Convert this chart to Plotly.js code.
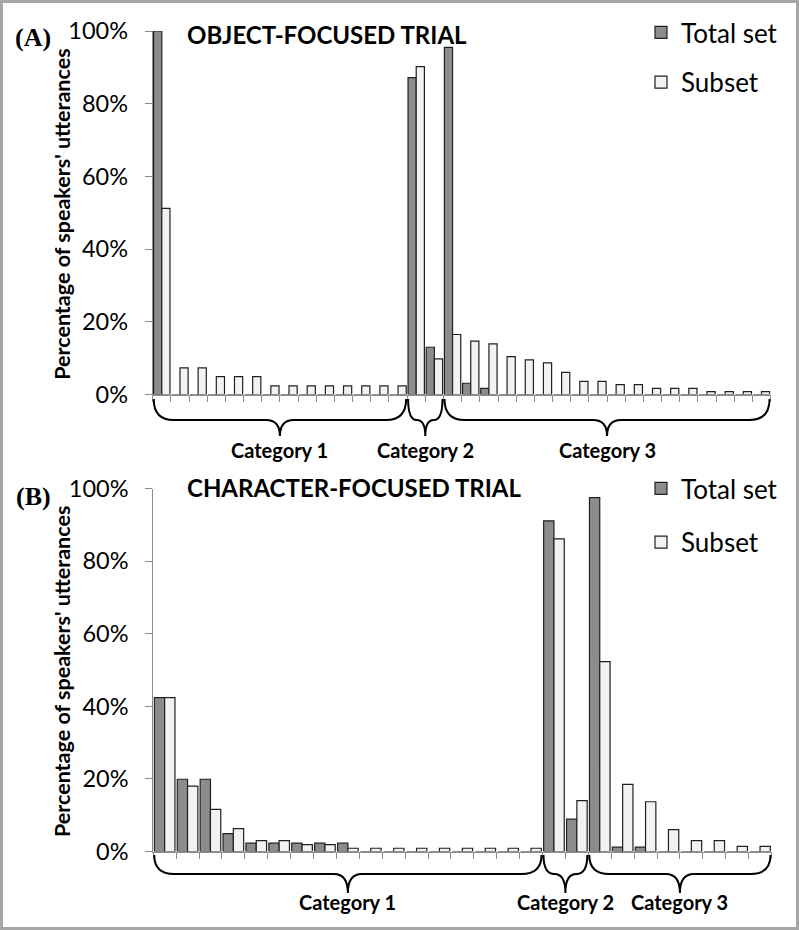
<!DOCTYPE html>
<html>
<head>
<meta charset="utf-8">
<script src="https://cdn.plot.ly/plotly-3.0.1.min.js"></script>
<style>html,body{margin:0;padding:0;background:#fff;}#chart{width:799px;height:930px;}</style>
</head>
<body>
<div id="chart"></div>
<script>
// ---------- DATA ----------
const seriesNames = ["Total set", "Subset"];

// Panel A: object-focused trial (34 expression types)
const objTotal = [100, 0, 0, 0, 0, 0, 0, 0, 0, 0, 0, 0, 0, 0,
                  87.2, 13.0,
                  95.5, 3.1, 1.7, 0, 0, 0, 0, 0, 0, 0, 0, 0, 0, 0, 0, 0, 0, 0];
const objSubset = [51.2, 7.3, 7.3, 4.9, 4.9, 4.9, 2.4, 2.4, 2.4, 2.4, 2.4, 2.4, 2.4, 2.4,
                   90.2, 9.8,
                   16.5, 14.7, 13.9, 10.4, 9.5, 8.7, 6.1, 3.6, 3.6, 2.7, 2.7, 1.7, 1.7, 1.7, 0.8, 0.8, 0.8, 0.8];

// Panel B: character-focused trial (27 expression types)
const charTotal = [42.4, 19.9, 19.9, 4.9, 2.3, 2.3, 2.3, 2.3, 2.3, 0, 0, 0, 0, 0, 0, 0, 0,
                   91.1, 8.9,
                   97.5, 1.2, 1.2, 0, 0, 0, 0, 0];
const charSubset = [42.4, 18.0, 11.6, 6.3, 3.0, 3.0, 1.9, 1.9, 0.9, 0.9, 0.9, 0.9, 0.9, 0.9, 0.9, 0.9, 0.9,
                    86.1, 14.0,
                    52.3, 18.5, 13.7, 6.0, 3.0, 3.0, 1.4, 1.4];

// Category groups (first and last item index of each bracket)
const groupLabels = ["Category 1", "Category 2", "Category 3"];
const objGroupStart = [0, 14, 16];
const objGroupEnd = [13, 15, 33];
const charGroupStart = [0, 17, 19];
const charGroupEnd = [16, 18, 26];

const yTickVals = [0, 20, 40, 60, 80, 100];
const yTickText = ["0%", "20%", "40%", "60%", "80%", "100%"];
const panelTitles = ["OBJECT-FOCUSED TRIAL", "CHARACTER-FOCUSED TRIAL"];
const panelTags = ["(A)", "(B)"];
const yTitle = "Percentage of speakers' utterances";

// ---------- LAYOUT HELPERS ----------
const W = 799, H = 930;
const FONT = "Lato, 'Open Sans', sans-serif";
const AX = "#8c8c8c";
const darkFill = "#8c8c8c", lightFill = "#f2f2f2", barLine = "#202020";

const panels = [
  {total: objTotal, subset: objSubset, gs: objGroupStart, ge: objGroupEnd,
   xPix: [152.7, 770.6], yPix: [394.5, 31], braceTop: 399, braceMid: 420, braceTip: 436, labelY: 450,
   titleY: 35, tagY: 37, legendTop: 9, legendGap: 13},
  {total: charTotal, subset: charSubset, gs: charGroupStart, ge: charGroupEnd,
   xPix: [153.2, 771.5], yPix: [851.5, 488.5], braceTop: 855, braceMid: 874, braceTip: 893, labelY: 902,
   titleY: 487, tagY: 496, legendTop: 465, legendGap: 17}
];

const fx = p => p / W;
const fy = p => 1 - p / H;

const traces = [];
const layout = {
  width: W, height: H,
  margin: {l: 0, r: 0, t: 0, b: 0},
  paper_bgcolor: "#fff", plot_bgcolor: "rgba(0,0,0,0)",
  barmode: "group", bargap: 0.1, bargroupgap: 0,
  font: {family: FONT, color: "#000"},
  showlegend: true,
  shapes: [], annotations: []
};

panels.forEach((P, k) => {
  const n = P.total.length;
  const xs = P.total.map((_, i) => i);
  const xa = k === 0 ? "x" : "x2", ya = k === 0 ? "y" : "y2";
  const xKey = k === 0 ? "xaxis" : "xaxis2", yKey = k === 0 ? "yaxis" : "yaxis2";
  const legKey = k === 0 ? "legend" : "legend2";

  traces.push({
    type: "bar", name: seriesNames[0], x: xs, y: P.total, xaxis: xa, yaxis: ya,
    marker: {color: darkFill, line: {color: barLine, width: 1.2}},
    legend: legKey, legendgroup: "g" + k + "a", hoverinfo: "skip"
  });
  traces.push({
    type: "bar", name: seriesNames[1], x: xs, y: P.subset, xaxis: xa, yaxis: ya,
    marker: {color: lightFill, line: {color: barLine, width: 1.2}},
    legend: legKey, legendgroup: "g" + k + "b", hoverinfo: "skip"
  });

  const r0 = -0.5, r1 = n - 0.5;
  const boundaries = [];
  for (let i = 0; i <= n; i++) boundaries.push(i - 0.5);

  layout[xKey] = {
    domain: [fx(P.xPix[0]), fx(P.xPix[1])], range: [r0, r1], anchor: ya,
    showline: true, linecolor: AX, linewidth: 1,
    ticks: "outside", ticklen: 6, tickcolor: AX, tickwidth: 1,
    tickmode: "array", tickvals: boundaries, showticklabels: false,
    showgrid: false, zeroline: false, fixedrange: true
  };
  layout[yKey] = {
    domain: [fy(P.yPix[0]), fy(P.yPix[1])], range: [0, 100], anchor: xa,
    showline: true, linecolor: AX, linewidth: 1,
    ticks: "outside", ticklen: 7, tickcolor: AX, tickwidth: 1,
    tickmode: "array", tickvals: yTickVals, ticktext: yTickText,
    ticklabelstandoff: 12,
    tickfont: {family: FONT, size: 23.5, color: "#000"},
    showgrid: false, zeroline: false, fixedrange: true
  };

  // y-axis title, centred on the axis
  layout.annotations.push({xref: "paper", yref: "paper", x: fx(62),
    y: fy((P.yPix[0] + P.yPix[1]) / 2 + 2), xanchor: "center", yanchor: "middle",
    textangle: -90, showarrow: false, text: yTitle,
    font: {family: FONT, size: 21.5, weight: "bold", color: "#000"}});

  layout[legKey] = {
    x: fx(641), xanchor: "left", y: fy(P.legendTop), yanchor: "top",
    font: {family: FONT, size: 26, color: "#000"},
    bgcolor: "rgba(0,0,0,0)", borderwidth: 0,
    traceorder: "grouped", tracegroupgap: P.legendGap
  };

  // pixel mapping of category positions via the axis domain / range
  const xp = v => P.xPix[0] + (v - r0) / (r1 - r0) * (P.xPix[1] - P.xPix[0]);

  P.gs.forEach((s, g) => {
    const x0 = xp(s - 0.5) + 1, x1 = xp(P.ge[g] + 0.5) - 1;
    const w = x1 - x0, xm = (x0 + x1) / 2;
    const r = Math.min(20, w / 4), r2 = Math.min(14, w / 4);
    const t = P.braceTop, m = P.braceMid, b = P.braceTip;
    const pt = (a, c) => fx(a).toFixed(5) + "," + fy(c).toFixed(5);
    const path = "M" + pt(x0, t) +
      " Q" + pt(x0, m) + " " + pt(x0 + r, m) +
      " L" + pt(xm - r2, m) +
      " Q" + pt(xm, m) + " " + pt(xm, b) +
      " Q" + pt(xm, m) + " " + pt(xm + r2, m) +
      " L" + pt(x1 - r, m) +
      " Q" + pt(x1, m) + " " + pt(x1, t);
    layout.shapes.push({type: "path", xref: "paper", yref: "paper", path: path,
      line: {color: "#000", width: 2}});
    layout.annotations.push({xref: "paper", yref: "paper", x: fx(xm), y: fy(P.labelY),
      xanchor: "center", yanchor: "middle", showarrow: false, text: groupLabels[g],
      font: {family: FONT, size: 20, weight: "bold", color: "#000"}});
  });

  layout.annotations.push({xref: "paper", yref: "paper", x: fx(185), y: fy(P.titleY),
    xanchor: "left", yanchor: "middle", showarrow: false, text: panelTitles[k],
    font: {family: FONT, size: 24, weight: "bold", color: "#000"}});
  layout.annotations.push({xref: "paper", yref: "paper", x: fx(33), y: fy(P.tagY),
    xanchor: "center", yanchor: "middle", showarrow: false, text: panelTags[k],
    font: {family: "'Liberation Serif', 'Times New Roman', serif", size: 26, weight: "bold", color: "#000"}});
});

// outer frame
layout.shapes.push({type: "rect", xref: "paper", yref: "paper",
  x0: fx(1.5), x1: fx(W - 1.5), y0: fy(H - 1.5), y1: fy(1.5),
  line: {color: "#a6a6a6", width: 3}, fillcolor: "rgba(0,0,0,0)"});

Plotly.newPlot("chart", traces, layout, {staticPlot: true, displayModeBar: false});
</script>
</body>
</html>
